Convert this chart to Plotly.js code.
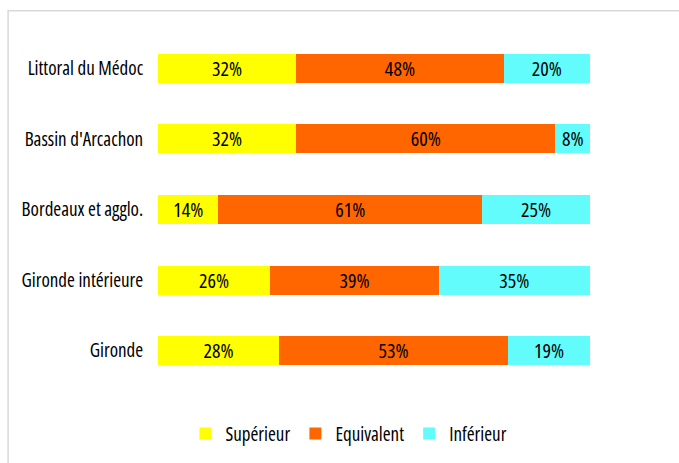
<!DOCTYPE html>
<html>
<head>
<meta charset="utf-8">
<script src="https://cdn.plot.ly/plotly-3.0.1.min.js"></script>
<style>
html,body{margin:0;padding:0;background:#fff;}
#chart{width:679px;height:463px;}
svg text{font-stretch:75% !important;}
</style>
</head>
<body>
<div id="chart"></div>
<script>
const categories = ["Littoral du Médoc", "Bassin d'Arcachon", "Bordeaux et agglo.", "Gironde intérieure", "Gironde"];
const superieur = [32, 32, 14, 26, 28];
const equivalent = [48, 60, 61, 39, 53];
const inferieur = [20, 8, 25, 35, 19];
const seriesNames = ["Supérieur", "Equivalent", "Inférieur"];
const colors = ["#FFFF00", "#FF6600", "#62FCFC"];

const FONT = "Open Sans, sans-serif";
const allSeries = [superieur, equivalent, inferieur];
const traces = allSeries.map((vals, i) => ({
  type: 'bar',
  orientation: 'h',
  name: seriesNames[i],
  y: categories,
  x: vals,
  text: vals.map(v => v + '%'),
  textposition: 'inside',
  insidetextanchor: 'middle',
  textangle: 0,
  constraintext: 'none',
  textfont: {family: FONT, size: 20, color: '#000'},
  marker: {color: colors[i], line: {width: 0}},
  hoverinfo: 'x+y+name'
}));

const layout = {
  width: 679, height: 463,
  margin: {l: 158, r: 89, t: 33, b: 76},
  barmode: 'stack',
  bargap: 0.59,
  paper_bgcolor: '#fff',
  plot_bgcolor: '#fff',
  font: {family: FONT, size: 19, color: '#000'},
  showlegend: true,
  legend: {
    orientation: 'h', traceorder: 'normal',
    x: 0.442, xanchor: 'center', y: -0.078, yanchor: 'top',
    font: {family: FONT, size: 19, color: '#000'},
    itemwidth: 30, itemsizing: 'constant'
  },
  xaxis: {range: [0, 100], visible: false, showgrid: false, zeroline: false, fixedrange: true},
  yaxis: {
    autorange: 'reversed', showgrid: false, zeroline: false, showline: false,
    ticks: 'outside', ticklen: 10, tickcolor: 'rgba(0,0,0,0)',
    tickfont: {family: FONT, size: 19, color: '#000'}
  },
  shapes: [{
    type: 'rect', xref: 'paper', yref: 'paper',
    x0: -0.347, x1: 2, y0: -1, y1: 1.063,
    line: {color: '#d9d9d9', width: 1.5}, fillcolor: 'rgba(0,0,0,0)', layer: 'below'
  }]
};

Plotly.newPlot('chart', traces, layout, {displayModeBar: false, staticPlot: true});
</script>
</body>
</html>
